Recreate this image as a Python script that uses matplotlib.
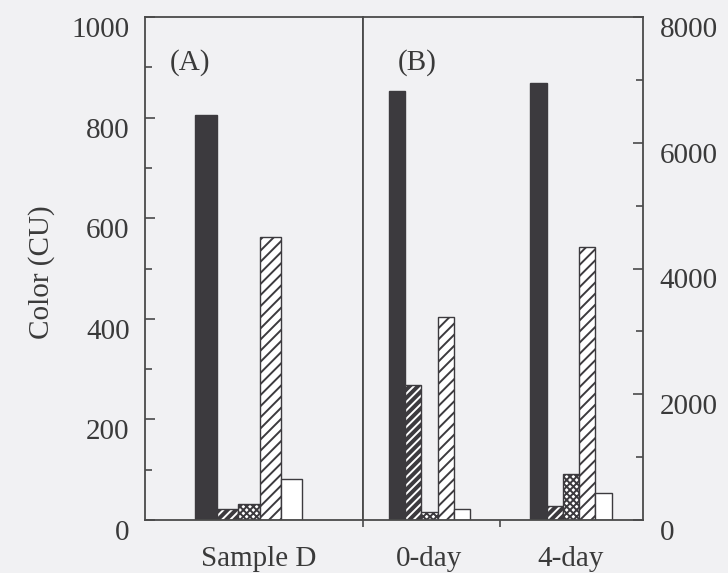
import numpy as np
import matplotlib.pyplot as plt
import matplotlib.transforms as mtransforms

plt.rcParams['font.family'] = 'Liberation Serif'
plt.rcParams['hatch.linewidth'] = 1.4

# panel A (left axis, CU)
sample_d = [805, 22, 32, 563, 81]
# panel B (right axis)
day_labels = ['0-day', '4-day']
day0 = [6820, 2150, 130, 3230, 180]
day4 = [6950, 220, 730, 4340, 430]

bg = '#f1f1f3'
ink = '#3c3a3e'
line = '#4a4a4a'
txt = '#3a3a3a'
fs = 21

fig = plt.figure(figsize=(7.28, 5.73), dpi=100, facecolor=bg)
axA = fig.add_axes([145/728, 53/573, 218/728, 503/573], facecolor=bg)
axB = fig.add_axes([363/728, 53/573, 280/728, 503/573], facecolor=bg)


def draw_group(ax, x0, vals, w):
    xs = x0 + (np.arange(5) - 2) * w
    # solid
    ax.bar(xs[0], vals[0], w, color=ink, edgecolor=ink, linewidth=1)
    # dark with white stripes
    ax.bar(xs[1], vals[1], w, color=ink, edgecolor='white', hatch='////', linewidth=0)
    ax.bar(xs[1], vals[1], w, color='none', edgecolor=ink, linewidth=1)
    # fine cross hatch
    ax.bar(xs[2], vals[2], w, color='white', edgecolor=ink, hatch='xxxxx', linewidth=1)
    # diagonal stripes
    ax.bar(xs[3], vals[3], w, color='white', edgecolor=ink, hatch='///', linewidth=1)
    # open
    ax.bar(xs[4], vals[4], w, color='white', edgecolor=ink, linewidth=1)


draw_group(axA, 0, sample_d, 0.206)
for i, vals in enumerate([day0, day4]):
    draw_group(axB, i, vals, 0.115)

axA.set_xlim(-1.0, 1.1)
axA.set_ylim(0, 1000)
axB.set_xlim(-0.47, 1.509)
axB.set_ylim(0, 8000)

for ax in (axA, axB):
    for s in ax.spines.values():
        s.set_color(line)
        s.set_linewidth(1.3)
    ax.tick_params(colors=line, labelcolor=txt, labelsize=fs, width=1.2)

axA.set_yticks(np.arange(0, 1001, 200))
axA.set_yticks(np.arange(100, 1000, 200), minor=True)
axA.tick_params(axis='y', which='major', direction='in', length=7, pad=11)
axA.tick_params(axis='y', which='minor', direction='in', length=5, width=1.2, colors=line)
axA.set_xticks([0])
axA.set_xticklabels(['Sample D'])
axA.tick_params(axis='x', length=0, pad=19)

axB.yaxis.tick_right()
axB.set_yticks(np.arange(0, 8001, 2000))
axB.set_yticks(np.arange(1000, 8000, 2000), minor=True)
axB.tick_params(axis='y', which='major', direction='in', length=7, pad=12)
axB.tick_params(axis='y', which='minor', direction='in', length=5, width=1.2, colors=line)
axB.set_xticks([0, 1])
axB.set_xticklabels(day_labels)
axB.set_xticks([-0.47, 0.5], minor=True)
axB.tick_params(axis='x', which='major', length=0, pad=19)
axB.tick_params(axis='x', which='minor', direction='out', length=5, width=1.2, colors=line)

for ax in (axA, axB):
    for lbl in ax.get_yticklabels():
        lbl.set_va('top')

# the Sample D label sits a little right of its bars
shift = mtransforms.ScaledTranslation(10/100, 0, fig.dpi_scale_trans)
for lbl in axA.get_xticklabels():
    lbl.set_transform(lbl.get_transform() + shift)

axA.text(0.115, 0.91, '(A)', transform=axA.transAxes, fontsize=fs, color=txt,
         ha='left', va='center')
axB.text(0.125, 0.91, '(B)', transform=axB.transAxes, fontsize=fs, color=txt,
         ha='left', va='center')

fig.text(42/728, 0.525, 'Color (CU)', rotation=90, fontsize=fs, color=txt,
         ha='center', va='center')

fig.savefig('out.png', dpi=100, facecolor=bg)
